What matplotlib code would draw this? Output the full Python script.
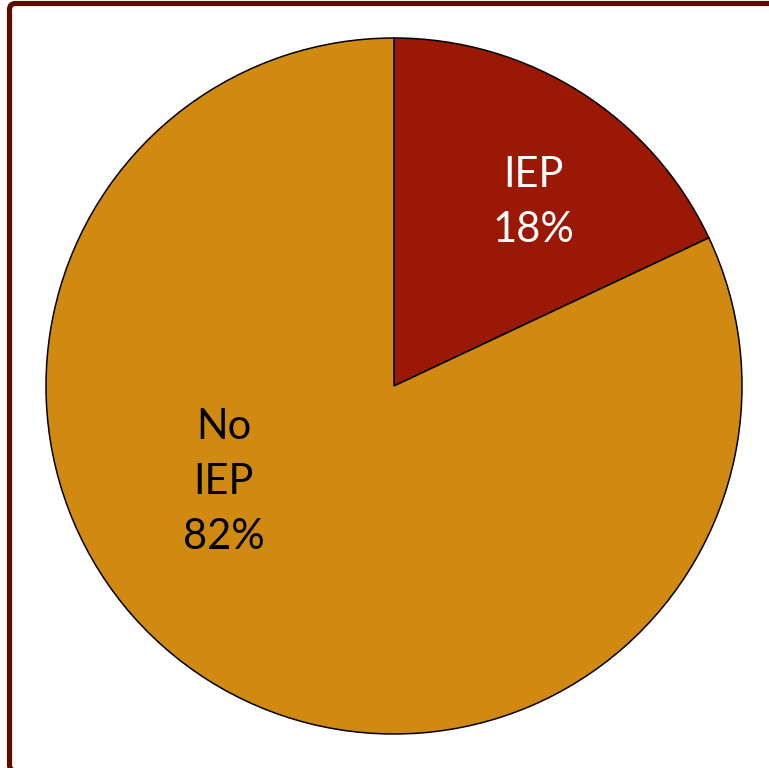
import matplotlib.pyplot as plt
from matplotlib.patches import FancyBboxPatch

# data
labels = ['IEP', 'No\nIEP']
shares = [18, 82]
colors = ['#9A1804', '#D08A12']
text_colors = ['white', 'black']
# label anchor points in pie units (radius = 1)
label_pos = [(0.40, 0.527), (-0.49, -0.275)]

plt.rcParams['font.family'] = ['Lato', 'DejaVu Sans']

fig = plt.figure(figsize=(7.69, 7.68), dpi=100)

# outer frame
bottom = -3 / 768
top = 1 - 3.5 / 768
frame = FancyBboxPatch((9.5 / 769, bottom), 1.0, top - bottom,
                       boxstyle='round,pad=0,rounding_size=0.008',
                       transform=fig.transFigure, facecolor='none',
                       edgecolor='#5E0B00', linewidth=3.7, zorder=5)
fig.patches.append(frame)

ax = fig.add_axes([(394 - 348) / 769, (768 - 386 - 348) / 768, 696 / 769, 696 / 768])
wedges, _ = ax.pie(shares, colors=colors, startangle=90, counterclock=False,
                   wedgeprops=dict(edgecolor='black', linewidth=1.1))
ax.set_xlim(-1, 1)
ax.set_ylim(-1, 1)
ax.set_aspect('equal')
ax.axis('off')

for lab, val, (x, y), tc in zip(labels, shares, label_pos, text_colors):
    ax.text(x, y, f'{lab}\n{val}%', ha='center', va='center', color=tc,
            fontsize=30, linespacing=1.55)

fig.savefig('out.png', dpi=100)
